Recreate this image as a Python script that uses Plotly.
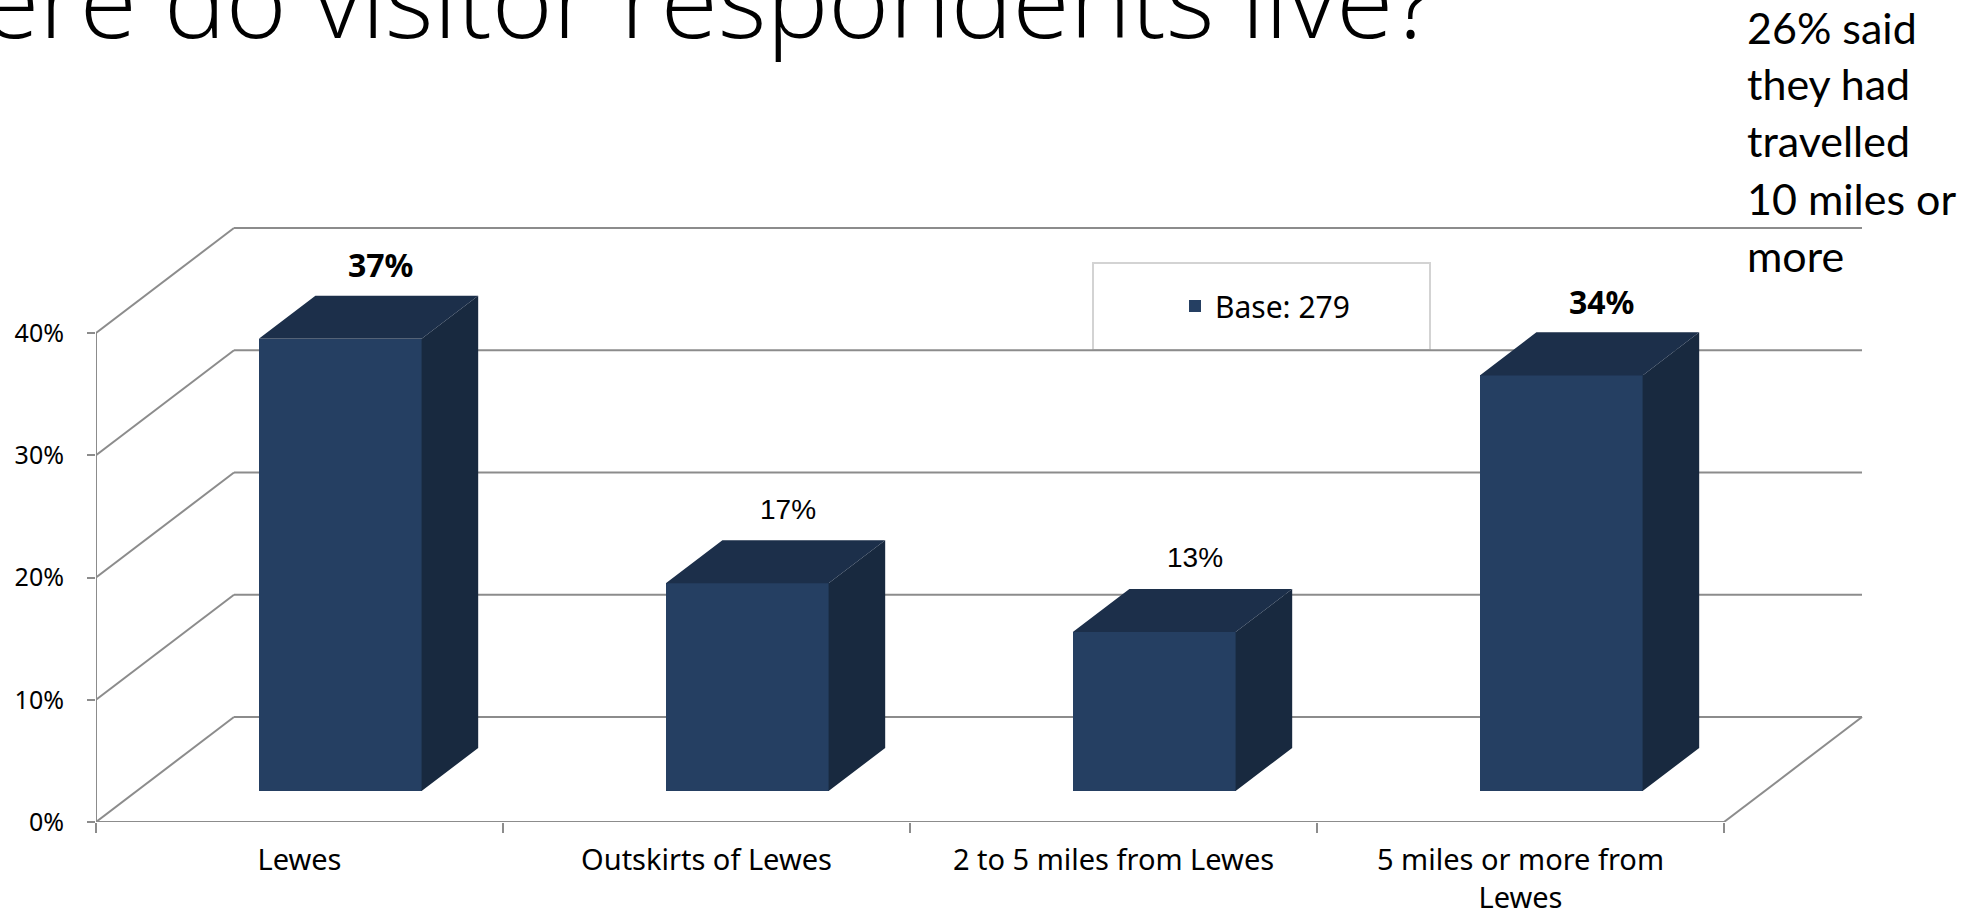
import plotly.graph_objects as go

# ---------------- data ----------------
categories = ["Lewes", "Outskirts of Lewes", "2 to 5 miles from Lewes", "5 miles or more from Lewes"]
category_labels = ["Lewes", "Outskirts of Lewes", "2 to 5 miles from Lewes", "5 miles or more from<br>Lewes"]
values = [37, 17, 13, 34]
value_labels = ["37%", "17%", "13%", "34%"]
bold_labels = [True, False, False, True]
y_ticks = [0, 10, 20, 30, 40]
y_tick_labels = ["0%", "10%", "20%", "30%", "40%"]
series_name = "Base: 279"
title_text = "Where do visitor respondents live?"
note_lines = ["26% said", "they had", "travelled", "10 miles or", "more"]

# ---------------- geometry / style ----------------
W, H = 1988, 913
ML, MB = 96, 91
PX_CAT = 407.0          # pixels per category
PX_PCT = 12.225         # pixels per percentage point
DX = 138 / PX_CAT       # oblique depth offset (category units)
DY = 105 / PX_PCT       # oblique depth offset (percent units)
D0, D1 = 0.295, 0.705   # bar depth span (fraction of full depth)
BAR_W = 0.4
n = len(categories)
x_max = (W - ML) / PX_CAT
y_max = (H - MB) / PX_PCT

FRONT = "#253F62"
TOP = "#1C2F4A"
SIDE = "#18293F"
GRID = "#8C8C8C"
LABEL_FONT = "Noto Sans, DejaVu Sans, sans-serif"
NARROW_FONT = "Liberation Sans Narrow, Arial Narrow, Liberation Sans, sans-serif"

fig = go.Figure()

# front faces as real bars
front_x = [k + 0.5 + D0 * DX for k in range(n)]
fig.add_trace(go.Bar(
    x=front_x, y=values, base=D0 * DY, width=BAR_W,
    marker=dict(color=FRONT, line=dict(width=0)),
    name=series_name, showlegend=True, hoverinfo="skip",
))

# top and side faces derived from the same values
ddx, ddy = (D1 - D0) * DX, (D1 - D0) * DY
top_x, top_y, side_x, side_y = [], [], [], []
for k, v in enumerate(values):
    xl = front_x[k] - BAR_W / 2
    xr = front_x[k] + BAR_W / 2
    b0 = D0 * DY
    t0 = b0 + v
    top_x += [xl, xr, xr + ddx, xl + ddx, xl, None]
    top_y += [t0, t0, t0 + ddy, t0 + ddy, t0, None]
    side_x += [xr, xr, xr + ddx, xr + ddx, xr, None]
    side_y += [b0, t0, t0 + ddy, b0 + ddy, b0, None]
fig.add_trace(go.Scatter(x=side_x, y=side_y, mode="lines", fill="toself",
                         fillcolor=SIDE, line=dict(width=0, color=SIDE),
                         showlegend=False, hoverinfo="skip"))
fig.add_trace(go.Scatter(x=top_x, y=top_y, mode="lines", fill="toself",
                         fillcolor=TOP, line=dict(width=0, color=TOP),
                         showlegend=False, hoverinfo="skip"))

# ---------------- 3D frame (walls, floor, axes) ----------------
shapes = []
line = dict(color=GRID, width=2)
for v in y_ticks:
    shapes.append(dict(type="line", xref="x", yref="y", x0=0, y0=v, x1=DX, y1=v + DY,
                       line=line, layer="below"))
    shapes.append(dict(type="line", xref="x", yref="y", x0=DX, y0=v + DY, x1=n + DX, y1=v + DY,
                       line=line, layer="below"))
shapes.append(dict(type="line", xref="x", yref="y", x0=n, y0=0, x1=n + DX, y1=DY,
                   line=line, layer="below"))
shapes.append(dict(type="line", xref="x", yref="y", x0=0, y0=0, x1=n, y1=0,
                   line=line, layer="below"))
shapes.append(dict(type="line", xref="x", yref="y", x0=0, y0=0, x1=0, y1=max(y_ticks),
                   line=line, layer="below"))

pw = W - ML
ph = H - MB
def px_x(p):
    return (p - ML) / pw
def px_y(p):
    return (ph - p) / ph

# legend box
shapes.append(dict(type="rect", xref="paper", yref="paper",
                   x0=px_x(1093), x1=px_x(1430), y0=px_y(350), y1=px_y(263),
                   fillcolor="white", line=dict(color="#D3D3D3", width=2), layer="below"))

# ---------------- annotations ----------------
annotations = []
for k, v in enumerate(values):
    annotations.append(dict(
        xref="x", yref="y", x=k + 0.5 + 0.2, y=v + 8.6,
        text=f"<b>{value_labels[k]}</b>" if bold_labels[k] else value_labels[k],
        showarrow=False,
        font=dict(family=LABEL_FONT if bold_labels[k] else NARROW_FONT,
                  size=32 if bold_labels[k] else 28, color="black"),
        xanchor="center", yanchor="middle",
    ))

annotations.append(dict(
    xref="paper", yref="paper", x=px_x(1439), y=px_y(-2.5),
    text=title_text, showarrow=False,
    font=dict(family="Open Sans, Lato, sans-serif", size=104, color="black", weight=300),
    xanchor="right", yanchor="middle",
))

note_y = [28, 85, 142, 199, 256]
for i, t in enumerate(note_lines):
    annotations.append(dict(
        xref="paper", yref="paper", x=px_x(1745), y=px_y(note_y[i] - 1),
        text=t, showarrow=False,
        font=dict(family="Lato, Open Sans, sans-serif", size=43, color="black"),
        xanchor="left", yanchor="middle",
    ))

fig.update_layout(
    width=W, height=H,
    margin=dict(l=ML, r=0, t=0, b=MB, pad=0, autoexpand=False),
    paper_bgcolor="white", plot_bgcolor="white",
    bargap=0,
    shapes=shapes,
    annotations=annotations,
    showlegend=True,
    legend=dict(x=px_x(1175), y=px_y(306), xanchor="left", yanchor="middle",
                bgcolor="rgba(0,0,0,0)", borderwidth=0,
                font=dict(family=LABEL_FONT, size=30, color="black")),
    xaxis=dict(range=[0, x_max], showgrid=False, zeroline=False, showline=False,
               automargin=False,
               tickmode="array", tickvals=[k + 0.5 for k in range(n)], ticktext=category_labels,
               ticks="", ticklabelstandoff=18,
               tickfont=dict(family=LABEL_FONT, size=29, color="black"),
               minor=dict(tickmode="array", tickvals=list(range(n + 1)), ticks="outside",
                          ticklen=10, tickwidth=2, tickcolor=GRID, showgrid=False),
               fixedrange=True),
    yaxis=dict(range=[0, y_max], showgrid=False, zeroline=False, showline=False,
               automargin=False,
               tickmode="array", tickvals=y_ticks, ticktext=y_tick_labels,
               ticks="outside", ticklen=8, tickwidth=2, tickcolor=GRID,
               ticklabelstandoff=18,
               tickfont=dict(family=LABEL_FONT, size=25, color="black"),
               fixedrange=True),
)

fig.write_html("out.html")
